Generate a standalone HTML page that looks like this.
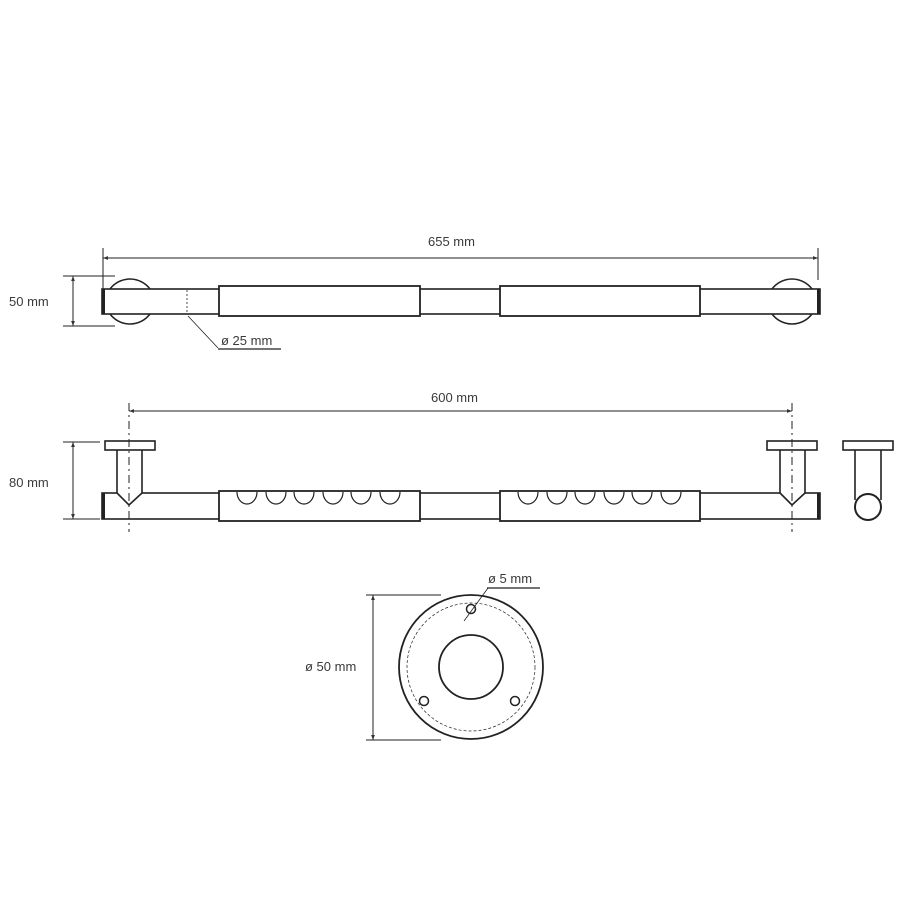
<!DOCTYPE html>
<html><head><meta charset="utf-8"><style>
html,body{margin:0;padding:0;background:#fff}
svg{display:block}
text{font-family:"Liberation Sans",sans-serif;font-size:13px;fill:#3a3a3a}
</style></head><body>
<svg width="900" height="900" viewBox="0 0 900 900" xmlns="http://www.w3.org/2000/svg">
<defs>
<marker id="a" viewBox="0 0 8 8" refX="8" refY="4" markerWidth="5" markerHeight="5" orient="auto-start-reverse"><path d="M0,1 L8,4 L0,7 z" fill="#333"/></marker>
</defs>
<g stroke="#222" fill="none" stroke-width="1.3">
<!-- TOP VIEW -->
<line x1="103" y1="248" x2="103" y2="290" stroke-width="1"/>
<line x1="818" y1="248" x2="818" y2="280" stroke-width="1"/>
<line x1="103" y1="258" x2="818" y2="258" stroke-width="1" marker-start="url(#a)" marker-end="url(#a)"/>
<text x="428" y="246" stroke="none">655 mm</text>
<path d="M110,289 A25,25 0 0 1 150,289 M110,314 A25,25 0 0 0 150,314" stroke-width="1.5"/>
<path d="M772,289 A25,25 0 0 1 812,289 M772,314 A25,25 0 0 0 812,314" stroke-width="1.5"/>
<rect x="102" y="289" width="718" height="25" stroke-width="1.6" fill="#fff"/>
<line x1="103.5" y1="289" x2="103.5" y2="314" stroke-width="3"/>
<line x1="818.5" y1="289" x2="818.5" y2="314" stroke-width="3"/>
<rect x="219" y="286" width="201" height="30" fill="#fff" stroke-width="1.8"/>
<rect x="500" y="286" width="200" height="30" fill="#fff" stroke-width="1.8"/>
<line x1="187" y1="290" x2="187" y2="313" stroke-width="0.8" stroke-dasharray="2,2"/>
<line x1="188" y1="316" x2="218" y2="348" stroke-width="0.8"/>
<line x1="218" y1="349" x2="281" y2="349" stroke-width="1.2"/>
<text x="221" y="345" stroke="none">ø 25 mm</text>
<line x1="63" y1="276" x2="115" y2="276" stroke-width="1"/>
<line x1="63" y1="326" x2="115" y2="326" stroke-width="1"/>
<line x1="73" y1="276" x2="73" y2="326" stroke-width="1" marker-start="url(#a)" marker-end="url(#a)"/>
<text x="9" y="306" stroke="none">50 mm</text>

<!-- SIDE VIEW -->
<line x1="129" y1="411" x2="792" y2="411" stroke-width="1" marker-start="url(#a)" marker-end="url(#a)"/>
<text x="431" y="402" stroke="none">600 mm</text>
<rect x="102" y="493" width="718" height="26" stroke-width="1.6" fill="#fff"/>
<line x1="103.5" y1="493" x2="103.5" y2="519" stroke-width="3"/>
<line x1="818.5" y1="493" x2="818.5" y2="519" stroke-width="3"/>
<path d="M117,450 V493 L129,505 L142,493 V450" fill="#fff" stroke-width="1.6"/>
<rect x="105" y="441" width="50" height="9" fill="#fff" stroke-width="1.6"/>
<path d="M780,450 V493 L792,505 L805,493 V450" fill="#fff" stroke-width="1.6"/>
<rect x="767" y="441" width="50" height="9" fill="#fff" stroke-width="1.6"/>
<rect x="219" y="491" width="201" height="30" fill="#fff" stroke-width="1.8"/>
<rect x="500" y="491" width="200" height="30" fill="#fff" stroke-width="1.8"/>
<path d="M237,492 a10,12 0 0 0 20,0 M266,492 a10,12 0 0 0 20,0 M294,492 a10,12 0 0 0 20,0 M323,492 a10,12 0 0 0 20,0 M351,492 a10,12 0 0 0 20,0 M380,492 a10,12 0 0 0 20,0" stroke-width="1.2"/>
<path d="M518,492 a10,12 0 0 0 20,0 M547,492 a10,12 0 0 0 20,0 M575,492 a10,12 0 0 0 20,0 M604,492 a10,12 0 0 0 20,0 M632,492 a10,12 0 0 0 20,0 M661,492 a10,12 0 0 0 20,0" stroke-width="1.2"/>
<line x1="129" y1="403" x2="129" y2="532" stroke-width="1" stroke-dasharray="8,4,2,4"/>
<line x1="792" y1="403" x2="792" y2="532" stroke-width="1" stroke-dasharray="8,4,2,4"/>
<line x1="63" y1="442" x2="100" y2="442" stroke-width="1"/>
<line x1="63" y1="519" x2="100" y2="519" stroke-width="1"/>
<line x1="73" y1="442" x2="73" y2="519" stroke-width="1" marker-start="url(#a)" marker-end="url(#a)"/>
<text x="9" y="487" stroke="none">80 mm</text>
<!-- end view -->
<line x1="855" y1="450" x2="855" y2="500" stroke-width="1.6"/>
<line x1="881" y1="450" x2="881" y2="500" stroke-width="1.6"/>
<circle cx="868" cy="507" r="13" fill="#fff" stroke-width="2"/>
<rect x="843" y="441" width="50" height="9" fill="#fff" stroke-width="1.6"/>

<!-- PLATE -->
<circle cx="471" cy="667" r="72" stroke-width="1.8"/>
<circle cx="471" cy="667" r="64" stroke-width="0.7" stroke-dasharray="3,2"/>
<circle cx="471" cy="667" r="32" stroke-width="1.8"/>
<circle cx="471" cy="609" r="4.5" stroke-width="1.5"/>
<circle cx="424" cy="701" r="4.5" stroke-width="1.5"/>
<circle cx="515" cy="701" r="4.5" stroke-width="1.5"/>
<line x1="488" y1="588" x2="464" y2="621" stroke-width="0.8"/>
<line x1="487" y1="588" x2="540" y2="588" stroke-width="1.2"/>
<text x="488" y="583" stroke="none">ø 5 mm</text>
<line x1="366" y1="595" x2="441" y2="595" stroke-width="1"/>
<line x1="366" y1="740" x2="441" y2="740" stroke-width="1"/>
<line x1="373" y1="595" x2="373" y2="740" stroke-width="1" marker-start="url(#a)" marker-end="url(#a)"/>
<text x="305" y="671" stroke="none">ø 50 mm</text>
</g>
</svg>
</body></html>
